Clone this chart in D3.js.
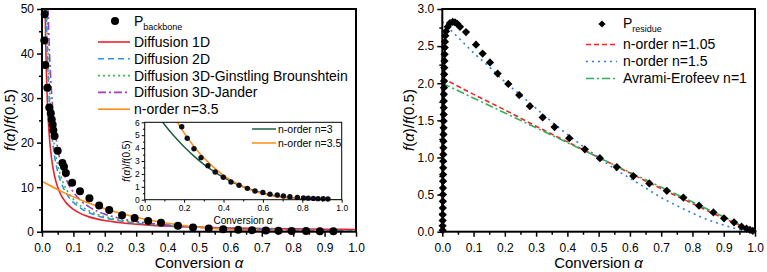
<!DOCTYPE html>
<html>
<head>
<meta charset="utf-8">
<script src="https://cdn.jsdelivr.net/npm/d3@7"></script>
<style>
  body { margin: 0; background: #fff; }
  svg { display: block; }
</style>
</head>
<body>
<svg id="chart" width="767" height="272"></svg>
<script>
// Left panel: P_backbone against diffusion / n-order models (inset zooms 0–6).
// Right panel: P_residue against n-order / Avrami-Erofeev models.
const FONT = "Arial, 'Liberation Sans', sans-serif";

// ---- data (alpha, f(a)/f(0.5)) ----
const backbone = [
  [0.0086, 48.8], [0.0073, 42.9], [0.0105, 37.4], [0.017, 32.3], [0.023, 27.9],
  [0.028, 26.6], [0.031, 25.2], [0.034, 24.0], [0.036, 22.8], [0.040, 21.5],
  [0.050, 18.2], [0.065, 15.4], [0.070, 14.6], [0.076, 13.2], [0.096, 11.0],
  [0.121, 9.1], [0.151, 7.5], [0.182, 5.9], [0.214, 4.9], [0.255, 3.7],
  [0.295, 3.1], [0.338, 2.4], [0.379, 2.0], [0.433, 1.35], [0.481, 0.95],
  [0.531, 0.7], [0.577, 0.55], [0.625, 0.42], [0.669, 0.35], [0.713, 0.28],
  [0.753, 0.22], [0.795, 0.17], [0.841, 0.13], [0.885, 0.1], [0.928, 0.08]
];
const diffusion1D = [
  [0.009, 55.6], [0.01, 50], [0.012, 41.7], [0.015, 33.3], [0.02, 25], [0.025, 20],
  [0.03, 16.7], [0.04, 12.5], [0.05, 10], [0.06, 8.33], [0.07, 7.14], [0.08, 6.25],
  [0.1, 5], [0.125, 4], [0.15, 3.33], [0.2, 2.5], [0.25, 2], [0.3, 1.67], [0.35, 1.43],
  [0.4, 1.25], [0.5, 1], [0.6, 0.83], [0.7, 0.71], [0.8, 0.63], [0.9, 0.56], [1.0, 0.5]
];
const diffusion2D = [
  [0.013, 52.97], [0.015, 45.87], [0.02, 34.31], [0.025, 27.4], [0.03, 22.76],
  [0.04, 16.98], [0.05, 13.51], [0.06, 11.2], [0.07, 9.55], [0.08, 8.31], [0.1, 6.58],
  [0.125, 5.19], [0.15, 4.26], [0.2, 3.11], [0.25, 2.41], [0.3, 1.94], [0.35, 1.61],
  [0.4, 1.36], [0.5, 1], [0.6, 0.76], [0.7, 0.58], [0.8, 0.43], [0.9, 0.3], [0.95, 0.23],
  [0.99, 0.15]
];
const diffusionGB = [
  [0.015, 51.46], [0.02, 38.47], [0.025, 30.67], [0.03, 25.47], [0.04, 18.97],
  [0.05, 15.07], [0.06, 12.47], [0.07, 10.62], [0.08, 9.22], [0.1, 7.27], [0.125, 5.71],
  [0.15, 4.67], [0.2, 3.37], [0.25, 2.58], [0.3, 2.06], [0.35, 1.68], [0.4, 1.4],
  [0.5, 1], [0.6, 0.73], [0.7, 0.53], [0.8, 0.37], [0.9, 0.23], [0.95, 0.15], [0.99, 0.07]
];
const diffusionJander = [
  [0.019, 50.7], [0.02, 48.15], [0.025, 38.3], [0.03, 31.77], [0.04, 23.58],
  [0.05, 18.67], [0.06, 15.39], [0.07, 13.05], [0.08, 11.3], [0.1, 8.85], [0.125, 6.88],
  [0.15, 5.57], [0.2, 3.94], [0.25, 2.96], [0.3, 2.3], [0.35, 1.84], [0.4, 1.49],
  [0.5, 1], [0.6, 0.68], [0.7, 0.44], [0.8, 0.27], [0.9, 0.13], [0.95, 0.07], [1.0, 0]
];
const nOrder35 = [
  [0, 11.31], [0.05, 9.45], [0.1, 7.82], [0.15, 6.41], [0.2, 5.18], [0.25, 4.13],
  [0.3, 3.25], [0.35, 2.51], [0.4, 1.89], [0.45, 1.4], [0.5, 1], [0.55, 0.69],
  [0.6, 0.46], [0.65, 0.29], [0.7, 0.17], [0.75, 0.09], [0.8, 0.04], [0.85, 0.015],
  [0.9, 0.004], [1.0, 0]
];
const nOrder3 = [
  [0.05, 6.86], [0.1, 5.83], [0.15, 4.91], [0.2, 4.1], [0.25, 3.38], [0.3, 2.74],
  [0.35, 2.2], [0.4, 1.73], [0.45, 1.33], [0.5, 1], [0.55, 0.73], [0.6, 0.51],
  [0.65, 0.34], [0.7, 0.22], [0.75, 0.13], [0.8, 0.06], [0.85, 0.03], [0.9, 0.01], [1.0, 0]
];
const insetPoints = [
  [0.188, 5.66], [0.216, 4.76], [0.25, 3.95], [0.286, 3.26], [0.321, 2.64],
  [0.358, 2.15], [0.399, 1.74], [0.438, 1.37], [0.479, 1.12], [0.521, 0.88],
  [0.56, 0.68], [0.6, 0.56], [0.636, 0.43], [0.673, 0.36], [0.704, 0.29],
  [0.737, 0.23], [0.775, 0.18], [0.806, 0.14], [0.83, 0.12], [0.856, 0.1],
  [0.88, 0.08], [0.906, 0.07], [0.93, 0.06]
];
const residue = [
  [0.001, 0.02], [0.001, 0.08], [0.0012, 0.15], [0.0014, 0.23], [0.0016, 0.32],
  [0.0018, 0.41], [0.002, 0.5], [0.0022, 0.59], [0.0024, 0.68], [0.0026, 0.77],
  [0.0028, 0.86], [0.003, 0.95], [0.0032, 1.04], [0.0034, 1.13], [0.0036, 1.22],
  [0.0038, 1.31], [0.004, 1.4], [0.0042, 1.49], [0.0044, 1.58], [0.0046, 1.67],
  [0.0048, 1.76], [0.005, 1.85], [0.0053, 1.94], [0.0056, 2.03], [0.006, 2.12],
  [0.0064, 2.21], [0.0068, 2.3], [0.0073, 2.39], [0.0078, 2.48], [0.0085, 2.56],
  [0.0096, 2.64], [0.012, 2.70], [0.0173, 2.76], [0.0246, 2.81], [0.0333, 2.825],
  [0.0406, 2.82], [0.048, 2.80], [0.0566, 2.76], [0.0758, 2.69], [0.1078, 2.52],
  [0.129, 2.40], [0.1525, 2.28], [0.177, 2.13], [0.211, 1.99], [0.246, 1.84],
  [0.28, 1.69], [0.321, 1.54], [0.359, 1.41], [0.406, 1.26], [0.456, 1.11],
  [0.504, 0.99], [0.558, 0.87], [0.611, 0.75], [0.662, 0.65], [0.718, 0.55],
  [0.771, 0.46], [0.821, 0.35], [0.867, 0.26], [0.901, 0.18], [0.933, 0.127],
  [0.957, 0.067], [0.973, 0.04], [0.984, 0.023], [0.993, 0.01]
];
const residueN105 = [
  [0, 2.07], [0.1, 1.85], [0.2, 1.64], [0.3, 1.42], [0.4, 1.21], [0.5, 1], [0.6, 0.79],
  [0.7, 0.58], [0.8, 0.38], [0.9, 0.18], [0.95, 0.09], [1.0, 0]
];
const residueN15 = [
  [0, 2.83], [0.05, 2.62], [0.1, 2.41], [0.15, 2.22], [0.2, 2.02], [0.25, 1.84],
  [0.3, 1.66], [0.35, 1.48], [0.4, 1.31], [0.45, 1.15], [0.5, 1], [0.55, 0.85],
  [0.6, 0.72], [0.65, 0.59], [0.7, 0.46], [0.75, 0.35], [0.8, 0.25], [0.85, 0.16],
  [0.9, 0.09], [0.95, 0.03], [1.0, 0]
];
const residueAvrami = [[0, 2], [0.25, 1.5], [0.5, 1], [0.75, 0.5], [1.0, 0]];

const xTicks = d3.range(0, 11).map((i) => i / 10);
const xMinorTicks = d3.range(0, 10).map((i) => i / 10 + 0.05);

const leftSeries = [
  { name: "Diffusion 1D", data: diffusion1D, color: "#e8222b", dash: null },
  { name: "Diffusion 2D", data: diffusion2D, color: "#2f8fe0", dash: "6,4" },
  { name: "Diffusion 3D-Ginstling Brounshtein", data: diffusionGB, color: "#3cba4a", dash: "2,3" },
  { name: "Diffusion 3D-Jander", data: diffusionJander, color: "#9a3fc0", dash: "8,3,2,3" },
  { name: "n-order n=3.5", data: nOrder35, color: "#ff8c1a", dash: null },
];
const insetSeries = [
  { name: "n-order n=3", data: nOrder3, color: "#1b5e40" },
  { name: "n-order n=3.5", data: nOrder35, color: "#ff8c1a" },
];
const rightSeries = [
  { name: "n-order n=1.05", data: residueN105, color: "#f2262a", dash: "5,3" },
  { name: "n-order n=1.5", data: residueN15, color: "#2f7fe0", dash: "2,4" },
  { name: "Avrami-Erofeev n=1", data: residueAvrami, color: "#2fb05a", dash: "8,3,2,3" },
];

const svg = d3.select("#chart").attr("font-family", FONT);

// axes with outward major/minor ticks plus a closed frame
function frame(x, y, o) {
  const [x0, x1] = x.range();
  const [y0, y1] = y.range();
  const g = svg.append("g");
  const style = (a) => {
    a.select(".domain").remove();
    a.attr("font-family", FONT).attr("font-size", o.font);
    a.selectAll("line").attr("stroke", "#000").attr("stroke-width", o.tickW);
    a.selectAll("text").attr("fill", "#000");
  };
  g.append("g").attr("transform", `translate(0,${y0})`)
    .call(d3.axisBottom(x).tickValues(o.xMajor).tickSize(o.tick).tickSizeOuter(0)
      .tickPadding(o.xPad).tickFormat(o.xFmt)).call(style);
  g.append("g").attr("transform", `translate(0,${y0})`)
    .call(d3.axisBottom(x).tickValues(o.xMinor).tickSize(o.minor).tickSizeOuter(0).tickFormat("")).call(style);
  g.append("g").attr("transform", `translate(${x0},0)`)
    .call(d3.axisLeft(y).tickValues(o.yMajor).tickSize(o.tick).tickSizeOuter(0)
      .tickPadding(o.yPad).tickFormat(o.yFmt)).call(style);
  g.append("g").attr("transform", `translate(${x0},0)`)
    .call(d3.axisLeft(y).tickValues(o.yMinor).tickSize(o.minor).tickSizeOuter(0).tickFormat("")).call(style);
  g.append("rect")
    .attr("x", x0).attr("y", y1).attr("width", x1 - x0).attr("height", y0 - y1)
    .attr("fill", "none").attr("stroke", "#000").attr("stroke-width", o.frameW);
  return g;
}

function yTitle(cx, cy, size) {
  const t = svg.append("text")
    .attr("transform", `translate(${cx},${cy}) rotate(-90)`)
    .attr("text-anchor", "middle").attr("dy", "0.35em").attr("font-size", size);
  t.append("tspan").attr("font-style", "italic").text("f");
  t.append("tspan").text("(");
  t.append("tspan").attr("font-style", "italic").text("α");
  t.append("tspan").text(")/");
  t.append("tspan").attr("font-style", "italic").text("f");
  t.append("tspan").text("(0.5)");
}

function xTitle(cx, cy, size) {
  const t = svg.append("text").attr("x", cx).attr("y", cy)
    .attr("text-anchor", "middle").attr("dy", "0.35em").attr("font-size", size);
  t.append("tspan").text("Conversion ");
  t.append("tspan").attr("font-style", "italic").text("α");
}

function clip(id, x, y) {
  svg.append("clipPath").attr("id", id).append("rect")
    .attr("x", x.range()[0]).attr("y", y.range()[1])
    .attr("width", x.range()[1] - x.range()[0]).attr("height", y.range()[0] - y.range()[1]);
}

function curve(x, y, s, clipId, width) {
  const line = d3.line().x((d) => x(d[0])).y((d) => y(d[1])).curve(d3.curveMonotoneX);
  svg.append("path").datum(s.data)
    .attr("clip-path", `url(#${clipId})`)
    .attr("fill", "none").attr("stroke", s.color).attr("stroke-width", width)
    .attr("stroke-dasharray", s.dash).attr("d", line);
}

// ================= left panel =================
const xL = d3.scaleLinear().domain([0, 1]).range([42, 356]);
const yL = d3.scaleLinear().domain([0, 50]).range([231.7, 9]);
clip("clipL", xL, yL);

leftSeries.forEach((s) => curve(xL, yL, s, "clipL", 1.6));

svg.append("g").selectAll("circle").data(backbone).join("circle")
  .attr("cx", (d) => xL(d[0])).attr("cy", (d) => yL(d[1])).attr("r", 4).attr("fill", "#000");

frame(xL, yL, {
  xMajor: xTicks, xMinor: xMinorTicks, yMajor: d3.range(0, 51, 10), yMinor: d3.range(5, 50, 10),
  xFmt: d3.format(".1f"), yFmt: d3.format("d"), font: 12, tick: 5, minor: 3,
  xPad: 7, yPad: 3, tickW: 1.5, frameW: 2,
});
yTitle(10, 120, 15);
xTitle(199, 263, 15);

// legend
const legL = svg.append("g");
legL.append("circle").attr("cx", 115).attr("cy", 21).attr("r", 4).attr("fill", "#000");
const pb = legL.append("text").attr("x", 134).attr("y", 21).attr("dy", "0.35em").attr("font-size", 14);
pb.append("tspan").text("P");
pb.append("tspan").attr("font-size", 9).attr("dy", 4).text("backbone");
leftSeries.forEach((s, i) => {
  const yy = 42 + i * 16.8;
  legL.append("line").attr("x1", 98).attr("x2", 130).attr("y1", yy).attr("y2", yy)
    .attr("stroke", s.color).attr("stroke-width", 1.6).attr("stroke-dasharray", s.dash);
  legL.append("text").attr("x", 134).attr("y", yy).attr("dy", "0.35em")
    .attr("font-size", 14).text(s.name);
});

// ================= inset =================
const xI = d3.scaleLinear().domain([0, 1]).range([144.7, 341.7]);
const yI = d3.scaleLinear().domain([0, 6]).range([199.7, 122.3]);
clip("clipI", xI, yI);
svg.append("rect").attr("x", 144.7).attr("y", 122.3).attr("width", 197).attr("height", 77.4).attr("fill", "#fff");
insetSeries.forEach((s) => curve(xI, yI, s, "clipI", 1.5));
svg.append("g").selectAll("circle").data(insetPoints).join("circle")
  .attr("cx", (d) => xI(d[0])).attr("cy", (d) => yI(d[1])).attr("r", 2.7).attr("fill", "#0d0d1a");

frame(xI, yI, {
  xMajor: [0, 0.2, 0.4, 0.6, 0.8, 1.0], xMinor: [0.1, 0.3, 0.5, 0.7, 0.9],
  yMajor: d3.range(0, 7), yMinor: [0.5, 1.5, 2.5, 3.5, 4.5, 5.5],
  xFmt: d3.format(".1f"), yFmt: d3.format("d"), font: 8.5, tick: 3, minor: 1.8,
  xPad: 2, yPad: 2, tickW: 1, frameW: 1,
});
yTitle(126, 161, 10);
xTitle(243, 220, 10);
insetSeries.forEach((s, i) => {
  const yy = 129 + i * 14;
  svg.append("line").attr("x1", 252).attr("x2", 276).attr("y1", yy).attr("y2", yy)
    .attr("stroke", s.color).attr("stroke-width", 1.5);
  svg.append("text").attr("x", 278).attr("y", yy).attr("dy", "0.35em")
    .attr("font-size", 10.5).text(s.name);
});

// ================= right panel =================
const xR = d3.scaleLinear().domain([0, 1]).range([442.3, 755]);
const yR = d3.scaleLinear().domain([0, 3]).range([231.7, 9]);
clip("clipR", xR, yR);

rightSeries.forEach((s) => curve(xR, yR, s, "clipR", 1.6));

const diamond = d3.symbol().type(d3.symbolSquare).size(34);
svg.append("g").selectAll("path").data(residue).join("path")
  .attr("transform", (d) => `translate(${xR(d[0])},${yR(d[1])}) rotate(45)`)
  .attr("d", diamond).attr("fill", "#000");

frame(xR, yR, {
  xMajor: xTicks, xMinor: xMinorTicks,
  yMajor: d3.range(0, 7).map((i) => i / 2), yMinor: d3.range(0, 6).map((i) => i / 2 + 0.25),
  xFmt: d3.format(".1f"), yFmt: d3.format(".1f"), font: 12, tick: 5, minor: 3,
  xPad: 7, yPad: 3, tickW: 1.5, frameW: 2,
});
yTitle(409, 120, 15);
xTitle(598.5, 263, 15);

const legR = svg.append("g");
legR.append("path").attr("transform", "translate(602,24) rotate(45)")
  .attr("d", d3.symbol().type(d3.symbolSquare).size(26)).attr("fill", "#000");
const pr = legR.append("text").attr("x", 623).attr("y", 23).attr("dy", "0.35em").attr("font-size", 14);
pr.append("tspan").text("P");
pr.append("tspan").attr("font-size", 9).attr("dy", 4).text("residue");
rightSeries.forEach((s, i) => {
  const yy = 44.5 + i * 17;
  legR.append("line").attr("x1", 586).attr("x2", 617).attr("y1", yy).attr("y2", yy)
    .attr("stroke", s.color).attr("stroke-width", 1.6).attr("stroke-dasharray", s.dash);
  legR.append("text").attr("x", 623).attr("y", yy).attr("dy", "0.35em")
    .attr("font-size", 14).text(s.name);
});
</script>
</body>
</html>
